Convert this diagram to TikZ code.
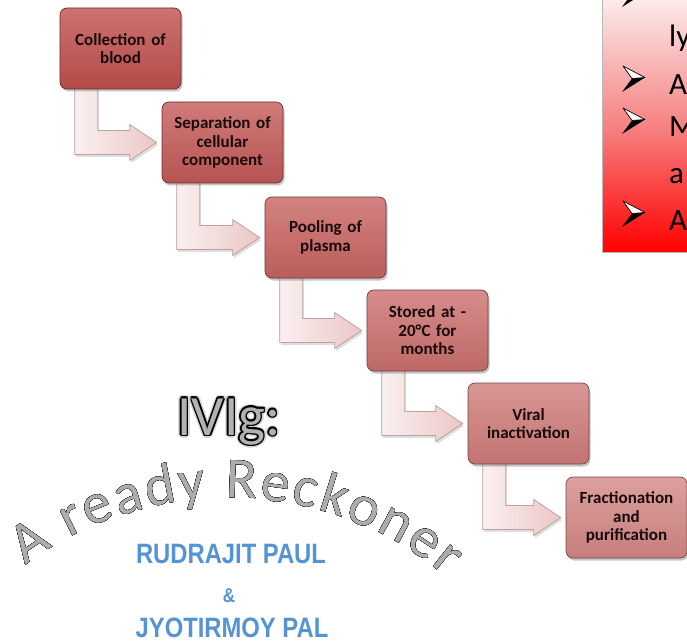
\documentclass[tikz,border=0pt]{standalone}
\usepackage{fontspec}
\setmainfont{Carlito}
\newfontfamily\namefont{Liberation Sans}
\usetikzlibrary{calc,shadows,decorations.text}
\definecolor{b1}{RGB}{192,80,77}
\definecolor{b2}{RGB}{196,90,88}
\definecolor{b3}{RGB}{200,100,98}
\definecolor{b4}{RGB}{204,112,110}
\definecolor{b5}{RGB}{208,124,122}
\definecolor{b6}{RGB}{212,136,134}
\definecolor{arrowL}{RGB}{250,240,240}
\definecolor{arrowR}{RGB}{236,198,198}
\definecolor{arrowD}{RGB}{190,160,160}
\definecolor{boxtext}{RGB}{24,10,10}
\definecolor{nameblue}{RGB}{84,148,212}
\definecolor{paneltop}{RGB}{252,234,234}
\definecolor{panelmid}{RGB}{246,130,130}
\definecolor{panelbot}{RGB}{255,0,0}
\pgfdeclarelayer{back}
\pgfdeclarelayer{bg}
\pgfsetlayers{back,bg,main}
\tikzset{
  stepbox/.style={rounded corners=7pt, minimum width=121pt, minimum height=81pt,
    text width=116pt, align=center, inner sep=0pt,
    font=\bfseries\fontsize{17}{18.5}\selectfont, text=boxtext,
    draw=#1!55!black, line width=0.7pt, top color=#1!80!white, bottom color=#1!93!black,
    drop shadow={opacity=0.45, shadow xshift=1.5pt, shadow yshift=-2.5pt}},
  larrow/.style={draw=arrowD, line width=0.8pt, line join=miter,
    left color=arrowL, right color=arrowR,
    drop shadow={opacity=0.25, shadow xshift=1.5pt, shadow yshift=-2.5pt}},
  ptext/.style={anchor=base west, inner sep=0pt, font=\fontsize{31}{36}\selectfont, text=black},
  namestyle/.style={anchor=base, inner sep=0pt, font=\namefont\bfseries\fontsize{28}{28}\selectfont,
    text=nameblue, xscale=0.85},
  ivigstyle/.style={anchor=base, inner sep=0pt, font=\fontsize{57}{57}\selectfont},
  pbul/.pic={
    \fill[black] (10,13.5) -- (23,14.5) -- (0,0) -- cycle;
    \draw[black, line width=0.7pt, fill=white, line join=round] (1,26) -- (23,14.5) -- (10,13.5) -- cycle;
  }
}
\begin{document}
\begin{tikzpicture}[x=1pt,y=1pt]
\useasboundingbox (0,0) rectangle (687,641);
\begin{pgfonlayer}{back}
\fill[white] (0,0) rectangle (687,641);
\end{pgfonlayer}

% red panel (top right)
\begin{scope}
  \clip (602,389) rectangle (687,641);
  \shade[top color=paneltop, bottom color=panelbot, middle color=panelmid] (602,389) rectangle (687,641);
  \node[ptext] (p1) at (669,594) {ly};
  \node[ptext] (p2) at (669,546) {A};
  \node[ptext] (p3) at (669,504) {M};
  \node[ptext] (p4) at (669,457) {a};
  \node[ptext] (p5) at (669,411) {A};
  \pic at (622,634) {pbul};
  \pic at (622,549) {pbul};
  \pic at (622,507) {pbul};
  \pic at (622,414) {pbul};
\end{scope}
\draw[gray!55, line width=0.7pt] (602,641) -- (602,389) -- (687,389);

% process boxes
\node[stepbox=b1] (s1) at (120.5,592.5) {Collection of\\blood};
\node[stepbox=b2] (s2) at (222.5,498.5) {Separation of\\cellular\\component};
\node[stepbox=b3] (s3) at (325.5,403.5) {Pooling of\\plasma};
\node[stepbox=b4] (s4) at (427.5,310.5) {Stored at -\\20°C for\\months};
\node[stepbox=b5] (s5) at (528.5,217.5) {Viral\\inactivation};
\node[stepbox=b6] (s6) at (626.5,123.5) {Fractionation\\and\\purification};

% bent arrows
\begin{pgfonlayer}{bg}
\foreach \i/\j in {1/2,2/3,3/4,4/5,5/6}{
  \draw[larrow] let \p1=(s\i.south west), \p2=(s\j.west) in
    (\x1+15,\y1+3) -- (\x1+38,\y1+3) -- (\x1+38,\y2+12) -- (\x2-32,\y2+12)
    -- (\x2-32,\y2+18) -- (\x2-5,\y2) -- (\x2-32,\y2-18) -- (\x2-32,\y2-12)
    -- (\x1+15,\y2-12) -- cycle;
}
\end{pgfonlayer}

% IVIg: title
\coordinate (ivpos) at (229,206);
\foreach \a in {0,30,...,330}
  \node[ivigstyle, text=black!16] (ivg\a) at ($(ivpos)+(\a:3)$) {IVIg:};
\foreach \a in {0,45,...,315}
  \node[ivigstyle, text=black] (ivo\a) at ($(ivpos)+(\a:1.5)$) {IVIg:};
\node[ivigstyle, text=black!30] (ivig) at (ivpos) {IVIg:};

% arched subtitle
\coordinate (ac) at (229,-195);
\foreach \a in {0,30,...,330}
  \path[shift={(\a:3)}, decorate, decoration={text along path, text align=fit to path,
    text={|\fontsize{58}{58}\selectfont\color{black!16}|A ready Reckoner}}]
    ($(ac)+(127:338)$) arc[start angle=127, end angle=50, radius=338];
\foreach \a in {0,45,...,315}
  \path[shift={(\a:1.6)}, decorate, decoration={text along path, text align=fit to path,
    text={|\fontsize{58}{58}\selectfont\color{black}|A ready Reckoner}}]
    ($(ac)+(127:338)$) arc[start angle=127, end angle=50, radius=338];
\path[decorate, decoration={text along path, text align=fit to path,
    text={|\fontsize{58}{58}\selectfont\color{black!32}|A ready Reckoner}}]
    ($(ac)+(127:338)$) arc[start angle=127, end angle=50, radius=338];

% authors
\node[namestyle] (n1) at (231,78) {RUDRAJIT PAUL};
\node[namestyle, font=\namefont\bfseries\fontsize{20}{20}\selectfont] (n2) at (229,39) {\&};
\node[namestyle] (n3) at (232,4) {JYOTIRMOY PAL};
\end{tikzpicture}
\end{document}
